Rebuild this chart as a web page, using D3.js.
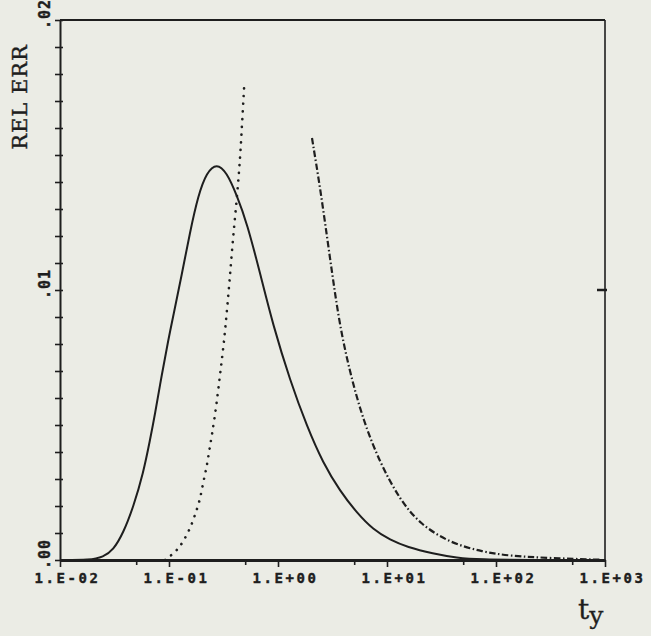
<!DOCTYPE html>
<html>
<head>
<meta charset="utf-8">
<script src="https://cdn.jsdelivr.net/npm/d3@7"></script>
<style>
  body { margin: 0; background: #ebece5; }
  svg { display: block; }
  .axis path, .axis line { stroke: #1e1e1e; }
  .axis text { font-family: "DejaVu Sans Mono", monospace; font-weight: bold; font-size: 14px; letter-spacing: 2.6px; fill: #1e1e1e; stroke: #1e1e1e; stroke-width: 0.4px; }
</style>
</head>
<body>
<script>
// x tick labels (log decades)
var xMajor = [0.01, 0.1, 1, 10, 100, 1000];
var xMajorLabels = ["1.E-02", "1.E-01", "1.E+00", "1.E+01", "1.E+02", "1.E+03"];
var xMinor = [0.05, 0.5, 5, 50, 500];
var yLabelValues = [0, 0.01, 0.02];
var yLabels = [".00", ".01", ".02"];

// solid curve
var tSolid = [0.01, 0.01885, 0.02494, 0.03083, 0.03807, 0.04704, 0.05809, 0.06694, 0.0744, 0.0857, 0.09854, 0.1095,
              0.1307, 0.1559, 0.1857, 0.2218, 0.274, 0.3384, 0.418, 0.5194, 0.684, 0.90, 1.29, 1.85, 2.59, 3.71,
              5.31, 7.45, 10.7, 15.3, 26.4, 43.9, 71, 200, 1000];
var vSolid = [0, 0, 0.00011, 0.00037, 0.001, 0.00196, 0.00322, 0.00444, 0.0054, 0.00685, 0.00815, 0.00905,
              0.01055, 0.01215, 0.01352, 0.01436, 0.0147, 0.01436, 0.01352, 0.01248, 0.01063, 0.0087, 0.00665, 0.00493, 0.00359, 0.00255,
              0.00174, 0.00113, 0.00074, 0.00048, 0.00024, 0.00008, 0.00002, 0, 0];

// dotted curve
var tDot = [0.0919, 0.1059, 0.121, 0.1344, 0.1559, 0.1732, 0.1925, 0.2051, 0.2218, 0.2328, 0.2642, 0.2937,
            0.3195, 0.3404, 0.3627, 0.3865, 0.418, 0.4481, 0.4675, 0.4907];
var vDot = [0, 0.000185, 0.00041, 0.00067, 0.00115, 0.00167, 0.00222, 0.00285, 0.00344, 0.004, 0.0053, 0.00685,
            0.00807, 0.00926, 0.01052, 0.01193, 0.01333, 0.01481, 0.01611, 0.01763];

// dash-dot curve
var tDash = [2.05, 2.43, 2.82, 3.20, 3.71, 4.58, 6.03, 8.63, 13.2, 20.1, 37.8, 76.0, 134, 313, 900];
var vDash = [0.01563, 0.01381, 0.01196, 0.01037, 0.00863, 0.00693, 0.00519, 0.00359, 0.00222, 0.00133, 0.00063, 0.0003, 0.00015, 0.00007, 0.00001];

var w = 651, h = 636;
var padL = 60, padR = 605, padT = 20, padB = 560;
var ink = "#1e1e1e";

var svg = d3.select("body").append("svg")
    .attr("width", w)
    .attr("height", h);

var x = d3.scaleLog().domain([0.01, 1000]).range([padL, padR]);
var y = d3.scaleLinear().domain([0, 0.02]).range([padB, padT]);

//curves (b-spline to smooth the hand-read points)
var line = d3.line()
    .x(function(d){ return x(d[0]); })
    .y(function(d){ return Math.min(y(d[1]), padB); })
    .curve(d3.curveBasis);

svg.append("path")
    .datum(d3.zip(tSolid, vSolid))
    .attr("d", line)
    .attr("fill", "none")
    .attr("stroke", ink)
    .attr("stroke-width", 2);

svg.append("path")
    .datum(d3.zip(tDot, vDot))
    .attr("d", line)
    .attr("fill", "none")
    .attr("stroke", ink)
    .attr("stroke-width", 2.6)
    .attr("stroke-linecap", "round")
    .attr("stroke-dasharray", "0.1,7.6");

svg.append("path")
    .datum(d3.zip(tDash, vDash))
    .attr("d", line)
    .attr("fill", "none")
    .attr("stroke", ink)
    .attr("stroke-width", 2.2)
    .attr("stroke-dasharray", "6.5,2.5,1.5,2.5");

//frame: top and right
svg.append("line")
    .attr("x1", padL).attr("x2", padR).attr("y1", padT).attr("y2", padT)
    .attr("stroke", ink).attr("stroke-width", 2);
svg.append("line")
    .attr("x1", padR).attr("x2", padR).attr("y1", padT).attr("y2", padB)
    .attr("stroke", ink).attr("stroke-width", 1.6);
//right axis tick at .01
svg.append("line")
    .attr("x1", padR - 8).attr("x2", padR + 2)
    .attr("y1", y(0.01)).attr("y2", y(0.01))
    .attr("stroke", ink).attr("stroke-width", 2.5);

//bottom axis: major ticks
var xAxis = svg.append("g")
    .attr("class", "axis")
    .attr("transform", "translate(0," + padB + ")")
    .call(d3.axisBottom(x).tickValues(xMajor).tickSize(7).tickSizeOuter(0)
        .tickFormat(function(d, i){ return xMajorLabels[i]; }));
xAxis.select(".domain").attr("stroke-width", 3);
xAxis.selectAll(".tick line").attr("stroke-width", 1.6);
xAxis.selectAll(".tick text").attr("dx", 7).attr("y", 23).attr("dy", 0);

//bottom axis: minor ticks
svg.append("g")
    .attr("class", "axis")
    .attr("transform", "translate(0," + padB + ")")
    .call(d3.axisBottom(x).tickValues(xMinor).tickSize(5).tickFormat(""))
    .call(function(g){ g.select(".domain").remove(); })
    .selectAll(".tick line").attr("stroke-width", 1.6);

//left axis: small ticks every .001
var yAxis = svg.append("g")
    .attr("class", "axis")
    .attr("transform", "translate(" + padL + ",0)")
    .call(d3.axisLeft(y).ticks(20).tickSize(5).tickSizeOuter(0).tickFormat(""));
yAxis.select(".domain").attr("stroke-width", 2);
yAxis.selectAll(".tick line").attr("x2", -5).attr("x1", 3).attr("stroke-width", 1.6);

//left axis labels, rotated
svg.selectAll(".ylab")
    .data(yLabelValues)
    .enter()
    .append("text")
    .attr("class", "ylab")
    .attr("transform", function(d){ return "translate(50," + (y(d) + 9) + ") rotate(-90)"; })
    .attr("text-anchor", "start")
    .style("font-family", "'DejaVu Sans Mono', monospace")
    .style("font-weight", "bold")
    .style("font-size", "15px")
    .style("letter-spacing", "1px")
    .style("stroke", ink)
    .style("stroke-width", 0.4)
    .style("fill", ink)
    .text(function(d, i){ return yLabels[i]; });

//y title
svg.append("text")
    .attr("transform", "translate(27,97) rotate(-90)")
    .attr("text-anchor", "middle")
    .style("font-family", "'DejaVu Serif', serif")
    .style("font-size", "21px")
    .style("letter-spacing", "1px")
    .style("stroke", ink)
    .style("stroke-width", 0.4)
    .style("fill", ink)
    .text("REL ERR");

//x title t_y
var xt = svg.append("text")
    .attr("x", 578)
    .attr("y", 619)
    .style("font-family", "'DejaVu Serif', serif")
    .style("stroke", ink)
    .style("stroke-width", 0.3)
    .style("fill", ink);
xt.append("tspan").style("font-size", "28px").text("t");
xt.append("tspan").style("font-size", "25px").attr("dy", 5).text("y");
</script>
</body>
</html>
